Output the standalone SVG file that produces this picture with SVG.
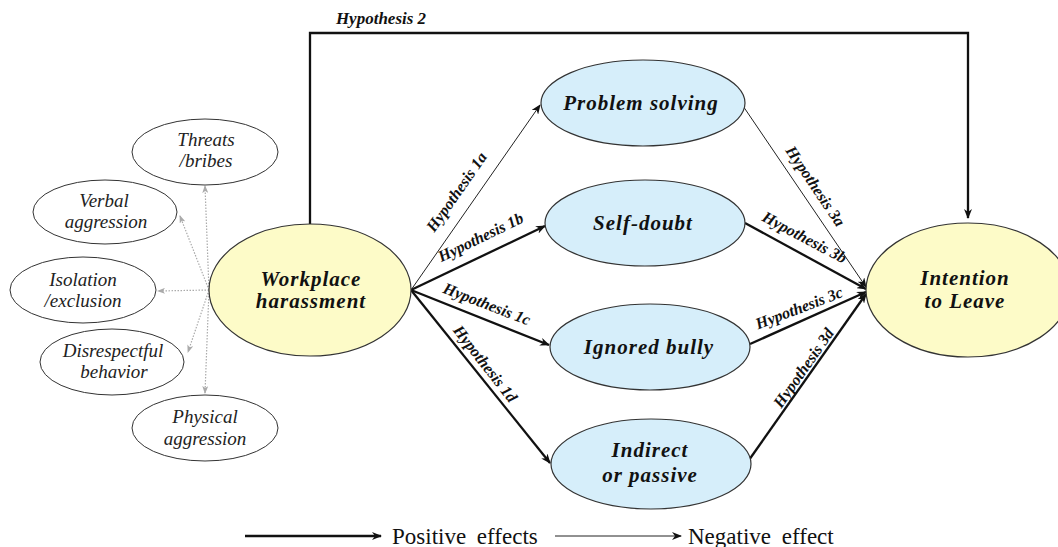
<svg xmlns="http://www.w3.org/2000/svg" width="1058" height="547" viewBox="0 0 1058 547">
<style>
.y{fill:#fdfbc8;stroke:#333;stroke-width:1.2}
.b{fill:#d6eefa;stroke:#333;stroke-width:1.2}
.w{fill:#fff;stroke:#333;stroke-width:1}
text{font-family:"Liberation Serif","Times New Roman","DejaVu Serif",serif}
.big{font-weight:bold;font-style:italic;font-size:21px;letter-spacing:1px;fill:#111;text-anchor:middle}
.sm{font-style:italic;font-size:19px;fill:#222;text-anchor:middle}
.h{font-weight:bold;font-style:italic;font-size:16px;fill:#111;text-anchor:middle}
.lg{font-size:23px;fill:#111;word-spacing:5px}
.thick{stroke:#111;stroke-width:2.3;fill:none}
.thin{stroke:#222;stroke-width:1;fill:none}
.dot{stroke:#aaa;stroke-width:1.2;stroke-dasharray:1.5 1.5;fill:none}
</style>
<defs>
<marker id="ak" markerWidth="10" markerHeight="8" refX="9" refY="4" orient="auto" markerUnits="userSpaceOnUse"><path d="M0,0 L10,4 L0,8 L3,4 Z" fill="#111"/></marker>
<marker id="ag" markerWidth="8" markerHeight="6" refX="7" refY="3" orient="auto" markerUnits="userSpaceOnUse"><path d="M0,0 L8,3 L0,6 L2,3 Z" fill="#aaa"/></marker>
</defs>
<rect width="1058" height="547" fill="#fff"/>
<g id="connectors">
<path class="thick" d="M310,225 V33 H968 V218" marker-end="url(#ak)"/>
<line class="thin" x1="411" y1="290" x2="540" y2="105" marker-end="url(#ak)"/>
<line class="thick" x1="411" y1="290" x2="545" y2="226" marker-end="url(#ak)"/>
<line class="thick" x1="411" y1="290" x2="549" y2="345" marker-end="url(#ak)"/>
<line class="thick" x1="411" y1="290" x2="550" y2="463" marker-end="url(#ak)"/>
<line class="thin" x1="741" y1="103" x2="866" y2="287" marker-end="url(#ak)"/>
<line class="thick" x1="745" y1="223" x2="866" y2="289" marker-end="url(#ak)"/>
<line class="thick" x1="750" y1="344" x2="866" y2="292" marker-end="url(#ak)"/>
<line class="thick" x1="749" y1="460" x2="866" y2="294" marker-end="url(#ak)"/>
<line class="dot" x1="209" y1="290" x2="205" y2="186" marker-end="url(#ag)"/>
<line class="dot" x1="209" y1="290" x2="180" y2="216" marker-end="url(#ag)"/>
<line class="dot" x1="209" y1="290" x2="158" y2="291" marker-end="url(#ag)"/>
<line class="dot" x1="209" y1="290" x2="188" y2="352" marker-end="url(#ag)"/>
<line class="dot" x1="209" y1="290" x2="205" y2="393" marker-end="url(#ag)"/>
<text class="h" x="381" y="24" style="font-size:17px">Hypothesis 2</text>
<text class="h" transform="translate(461,195) rotate(-55)">Hypothesis 1a</text>
<text class="h" transform="translate(483,242) rotate(-26)">Hypothesis 1b</text>
<text class="h" transform="translate(485,309) rotate(21)">Hypothesis 1c</text>
<text class="h" transform="translate(481,367) rotate(52)">Hypothesis 1d</text>
<text class="h" transform="translate(811,189) rotate(56)">Hypothesis 3a</text>
<text class="h" transform="translate(802,242) rotate(28)">Hypothesis 3b</text>
<text class="h" transform="translate(801,313) rotate(-21)">Hypothesis 3c</text>
<text class="h" transform="translate(808,371) rotate(-55)">Hypothesis 3d</text>
</g>
<g id="workplace"><ellipse class="y" cx="310" cy="290" rx="101" ry="66"/><text class="big" x="311" y="286">Workplace</text><text class="big" x="311" y="308">harassment</text></g>
<g id="problem"><ellipse class="b" cx="643" cy="103" rx="102" ry="43"/><text class="big" x="641" y="110">Problem solving</text></g>
<g id="selfdoubt"><ellipse class="b" cx="645" cy="223" rx="100" ry="43"/><text class="big" x="643" y="230">Self-doubt</text></g>
<g id="ignored"><ellipse class="b" cx="650" cy="347" rx="100" ry="43"/><text class="big" x="649" y="354">Ignored bully</text></g>
<g id="indirect"><ellipse class="b" cx="651" cy="464" rx="100" ry="45"/><text class="big" x="650" y="457">Indirect</text><text class="big" x="650" y="482">or passive</text></g>
<g id="intention"><ellipse class="y" cx="968" cy="290" rx="102" ry="67"/><text class="big" x="965" y="285">Intention</text><text class="big" x="965" y="308">to Leave</text></g>
<g id="threats"><ellipse class="w" cx="205" cy="152" rx="73" ry="33"/><text class="sm" x="206" y="146">Threats</text><text class="sm" x="206" y="167">/bribes</text></g>
<g id="verbal"><ellipse class="w" cx="105" cy="212" rx="72" ry="32"/><text class="sm" x="104" y="207">Verbal</text><text class="sm" x="106" y="228">aggression</text></g>
<g id="isolation"><ellipse class="w" cx="83" cy="290" rx="73" ry="33"/><text class="sm" x="83" y="286">Isolation</text><text class="sm" x="83" y="307">/exclusion</text></g>
<g id="disrespectful"><ellipse class="w" cx="112" cy="362" rx="72" ry="33"/><text class="sm" x="113" y="357">Disrespectful</text><text class="sm" x="114" y="378">behavior</text></g>
<g id="physical"><ellipse class="w" cx="205" cy="428" rx="73" ry="33"/><text class="sm" x="205" y="423">Physical</text><text class="sm" x="205" y="445">aggression</text></g>
<g id="legend">
<line class="thick" x1="245" y1="536" x2="381" y2="536" marker-end="url(#ak)"/>
<text class="lg" x="392" y="544">Positive effects</text>
<line class="thin" x1="555" y1="536" x2="681" y2="536" marker-end="url(#ak)"/>
<text class="lg" x="688" y="544">Negative effect</text>
</g>
</svg>
